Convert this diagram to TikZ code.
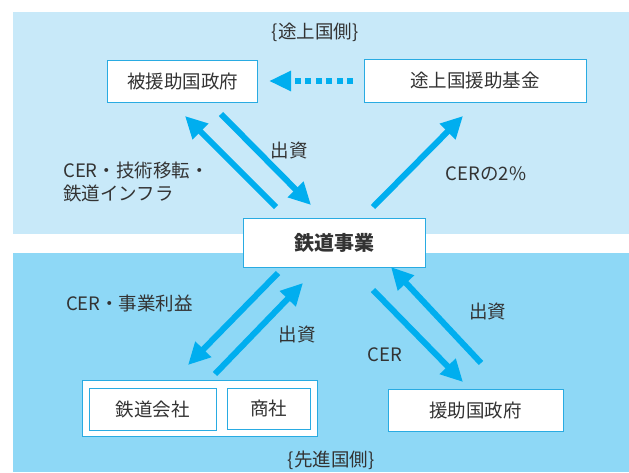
\documentclass[tikz,border=0pt]{standalone}
\usepackage{fontspec}
\setmainfont{Noto Sans CJK JP}
\usetikzlibrary{arrows.meta}
\definecolor{topbg}{HTML}{C8E9F9}
\definecolor{botbg}{HTML}{8ED8F6}
\definecolor{arr}{HTML}{00AEEF}
\definecolor{bord}{HTML}{29ABE2}
\definecolor{txt}{HTML}{333333}
\tikzset{
  box/.style={draw=bord, line width=0.8pt, fill=white, text=txt, font=\fontsize{18.5}{20}\selectfont, inner sep=0pt},
  lbl/.style={text=txt, font=\fontsize{18.5}{23}\selectfont, inner sep=0pt},
  bigarrow/.style={draw=arr, line width=6pt, -{Triangle[length=22pt,width=21pt]}},
  dotarrow/.style={draw=arr, line width=6pt, dash pattern=on 6pt off 4.5pt, -{Triangle[length=22pt,width=19pt]}}
}
\begin{document}
\begin{tikzpicture}[x=1pt,y=-1pt]
\useasboundingbox (0,0) rectangle (629,472);
\fill[white] (0,0) rectangle (629,472);
\fill[topbg] (13,12) rectangle (629,234);
\fill[botbg] (13,253) rectangle (629,472);

% top
\node[lbl] (top) at (315,32) {\{途上国側\}};
\node[box, minimum width=150pt, minimum height=42pt] (hgov) at (182.5,81) {被援助国政府};
\node[box, minimum width=222pt, minimum height=43pt] (fund) at (475,80.5) {途上国援助基金};
\node[box, minimum width=182pt, minimum height=49pt, font=\fontsize{20}{22}\selectfont\bfseries] (rail) at (334,242.5) {鉄道事業};

% bottom
\node[box, minimum width=235pt, minimum height=56pt] (grp) at (199.5,408) {};
\node[box, minimum width=127pt, minimum height=42pt] (rc) at (152.5,409) {鉄道会社};
\node[box, minimum width=83pt, minimum height=41pt] (sh) at (268.5,408.5) {商社};
\node[box, minimum width=175pt, minimum height=42pt] (dgov) at (475.5,410) {援助国政府};
\node[lbl] (bot) at (331,460) {\{先進国側\}};

% labels
\node[lbl] (l1) at (289,150) {出資};
\node[lbl, anchor=west, align=left] (l2) at (63,181.5) {CER・技術移転・\\鉄道インフラ};
\node[lbl] (l3) at (486,174) {CERの2\%};
\node[lbl] (l4) at (129.5,303) {CER・事業利益};
\node[lbl] (l5) at (297,334) {出資};
\node[lbl] (l6) at (385,355) {CER};
\node[lbl] (l7) at (487.5,311) {出資};

% arrow end coordinates
\coordinate (a1s) at (276,207); \coordinate (a1e) at (185,116);
\coordinate (a2s) at (221,114); \coordinate (a2e) at (311,205);
\coordinate (a3s) at (373,207); \coordinate (a3e) at (463,116);
\coordinate (b1s) at (278,273); \coordinate (b1e) at (188,365);
\coordinate (b2s) at (215,374); \coordinate (b2e) at (303,283);
\coordinate (c1s) at (373,290); \coordinate (c1e) at (463,382);
\coordinate (c2s) at (481,363); \coordinate (c2e) at (391,267);
\coordinate (ds) at (353,81); \coordinate (de) at (269,81);

\draw[bigarrow] (a1s) -- (a1e);
\draw[bigarrow] (a2s) -- (a2e);
\draw[bigarrow] (a3s) -- (a3e);
\draw[bigarrow] (b1s) -- (b1e);
\draw[bigarrow] (b2s) -- (b2e);
\draw[bigarrow] (c1s) -- (c1e);
\draw[bigarrow] (c2s) -- (c2e);
\draw[dotarrow] (ds) -- (de);
\end{tikzpicture}
\end{document}
